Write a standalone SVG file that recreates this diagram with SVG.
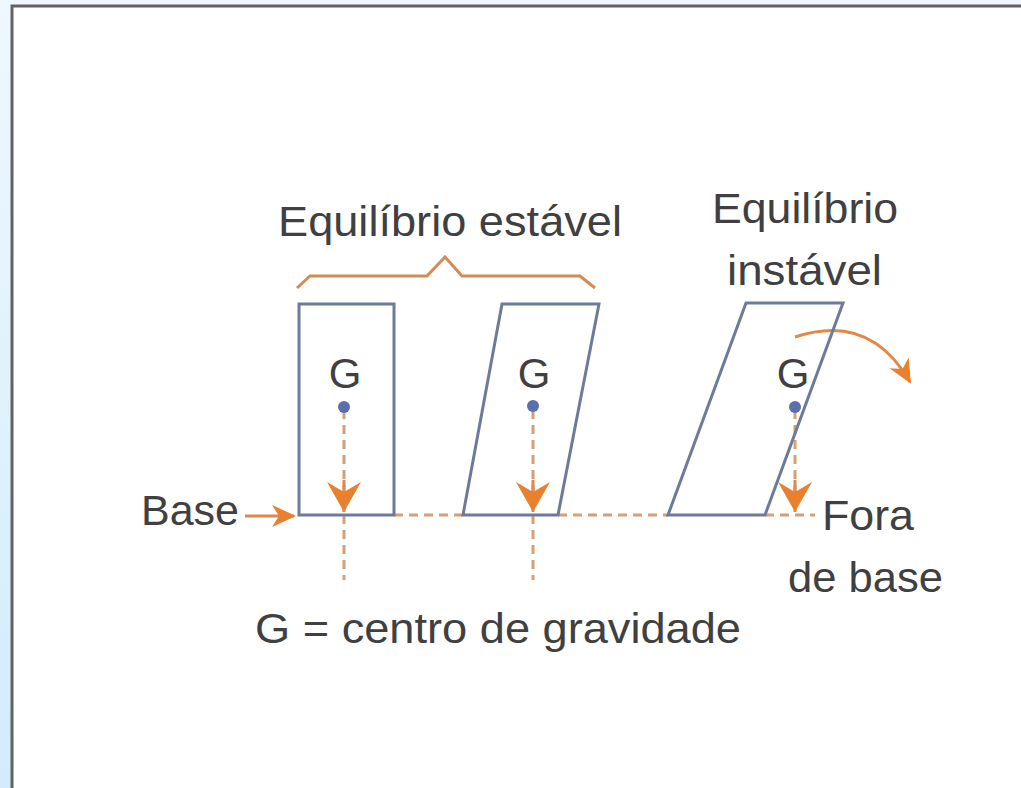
<svg xmlns="http://www.w3.org/2000/svg" width="1021" height="788" viewBox="0 0 1021 788">
<defs>
<linearGradient id="bg" x1="0" y1="0" x2="0" y2="1">
<stop offset="0" stop-color="#eef8fe"/>
<stop offset="1" stop-color="#d3ebfb"/>
</linearGradient>
<marker id="ah" viewBox="0 0 24 24" refX="22" refY="12" markerWidth="24" markerHeight="24" markerUnits="userSpaceOnUse" orient="auto">
<path d="M0,1 L24,12 L0,23 L7,12 Z" fill="#e8802e"/>
</marker>
<marker id="ahd" viewBox="0 0 32 34" refX="30" refY="17" markerWidth="32" markerHeight="34" markerUnits="userSpaceOnUse" orient="auto">
<path d="M0,0 L30,17 L0,34 L10,17 Z" fill="#e8802e"/>
</marker>
<style>
.t{font-family:"Liberation Sans",Arial,sans-serif;font-size:42px;fill:#404040}
.shape{fill:none;stroke:#6e7b98;stroke-width:3}
.dash{fill:none;stroke:#d6a072;stroke-width:3;stroke-dasharray:9 6}
.or{fill:none;stroke:#e0884a;stroke-width:3}
.dot{fill:#5b6fae}
</style>
</defs>
<rect width="1021" height="788" fill="url(#bg)"/>
<rect x="12" y="6" width="1009" height="782" fill="#ffffff"/>
<path d="M12,788 V6 H1021" fill="none" stroke="#626262" stroke-width="3"/>

<g id="connectors">
<path class="dash" d="M394,515 H462 M558,515 H668 M765,515 H815"/>
<path class="dash" d="M344,410 V580"/>
<path class="dash" d="M533,410 V580"/>
<path class="dash" d="M795,410 V515"/>
<path d="M344,480 V512" class="or" marker-end="url(#ahd)"/>
<path d="M533,480 V512" class="or" marker-end="url(#ahd)"/>
<path d="M795,480 V512" class="or" marker-end="url(#ahd)"/>
<path d="M245,516 H294" class="or" marker-end="url(#ah)"/>
<path d="M795,337 Q870,312 910,382" class="or" stroke="#c98a62" marker-end="url(#ah)"/>
<path d="M297,288 L310,276 H427 L445,257 L462,276 H580 L595,288" fill="none" stroke="#d88a55" stroke-width="3"/>
</g>

<g id="stable1">
<rect class="shape" x="299" y="304" width="95" height="211"/>
<text class="t" x="345" y="388" text-anchor="middle">G</text>
<circle class="dot" cx="344" cy="407" r="6"/>
</g>
<g id="stable2">
<path class="shape" d="M502,304 H599 L558,515 H463 Z"/>
<text class="t" x="534" y="388" text-anchor="middle">G</text>
<circle class="dot" cx="533" cy="406" r="6"/>
</g>
<g id="unstable">
<path class="shape" d="M746,303 H843 L765,515 H668 Z"/>
<text class="t" x="793" y="388" text-anchor="middle">G</text>
<circle class="dot" cx="795" cy="407" r="6"/>
</g>

<g id="labels">
<text class="t" x="278" y="236" textLength="344" lengthAdjust="spacingAndGlyphs">Equilíbrio estável</text>
<text class="t" x="712" y="223" textLength="186" lengthAdjust="spacingAndGlyphs">Equilíbrio</text>
<text class="t" x="727" y="285" textLength="155" lengthAdjust="spacingAndGlyphs">instável</text>
<text class="t" x="141" y="525" textLength="98" lengthAdjust="spacingAndGlyphs">Base</text>
<text class="t" x="822" y="530" textLength="92" lengthAdjust="spacingAndGlyphs">Fora</text>
<text class="t" x="788" y="592" textLength="155" lengthAdjust="spacingAndGlyphs">de base</text>
<text class="t" x="255" y="643" textLength="486" lengthAdjust="spacingAndGlyphs">G = centro de gravidade</text>
</g>
</svg>
